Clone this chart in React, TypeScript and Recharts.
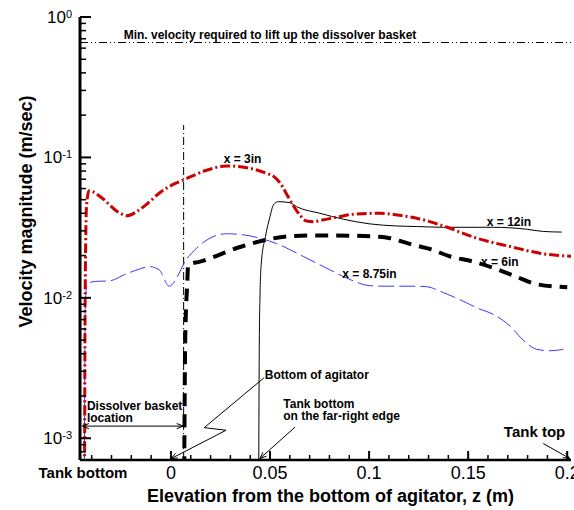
import { LineChart, Line, XAxis, YAxis, ReferenceLine, ReferenceDot } from "recharts";

const FONT = '"Liberation Sans", Arial, Helvetica, sans-serif';

// x = 3in (red dash-dot)
const x3inZ = [-0.0436, -0.0433, -0.0426, -0.0414, -0.0345, -0.0269, -0.0219, -0.0168, -0.0118, -0.005, 0.0025, 0.0062, 0.018, 0.0281, 0.0382, 0.0483, 0.052, 0.055, 0.058, 0.0615, 0.065, 0.0685, 0.072, 0.0752, 0.0836, 0.0937, 0.1055, 0.1173, 0.124, 0.1375, 0.1543, 0.1711, 0.1879, 0.2019];
const x3inV = [0.0006, 0.01, 0.045, 0.058, 0.051, 0.041, 0.0385, 0.0416, 0.047, 0.057, 0.0655, 0.069, 0.081, 0.087, 0.0845, 0.077, 0.073, 0.066, 0.056, 0.046, 0.039, 0.0352, 0.0348, 0.0355, 0.0375, 0.0396, 0.04, 0.0383, 0.0369, 0.0325, 0.0266, 0.0232, 0.0206, 0.0198];

// x = 6in (thick black dashed)
const x6inZ = [0.0067, 0.0072, 0.0082, 0.0087, 0.0146, 0.0357, 0.0483, 0.059, 0.075, 0.09, 0.105, 0.1105, 0.12, 0.131, 0.141, 0.1526, 0.1645, 0.1745, 0.1846, 0.2];
const x6inV = [0.0006, 0.005, 0.0125, 0.0172, 0.0181, 0.0232, 0.0259, 0.0274, 0.0278, 0.0277, 0.0272, 0.0266, 0.0243, 0.0222, 0.0197, 0.0181, 0.016, 0.0141, 0.0125, 0.0119];

// x = 8.75in (thin blue dashed)
const x875inZ = [-0.0437, -0.0432, -0.0421, -0.0379, -0.0311, -0.0227, -0.016, -0.011, -0.0059, -0.0009, 0.0042, 0.0062, 0.013, 0.0197, 0.0281, 0.0365, 0.0449, 0.0534, 0.0668, 0.0803, 0.0904, 0.1005, 0.1089, 0.124, 0.1291, 0.1375, 0.1459, 0.1543, 0.1644, 0.1711, 0.1778, 0.1846, 0.1913, 0.198];
const x875inV = [0.0006, 0.0095, 0.0127, 0.0131, 0.0132, 0.0148, 0.016, 0.0167, 0.0158, 0.0121, 0.015, 0.0172, 0.0226, 0.0266, 0.0286, 0.0281, 0.0266, 0.0243, 0.0197, 0.0158, 0.0135, 0.0122, 0.0121, 0.0121, 0.012, 0.0109, 0.0097, 0.0085, 0.0074, 0.0063, 0.005, 0.0043, 0.0042, 0.0043];

// x = 12in (thin black solid)
const x12inZ = [0.0443, 0.0446, 0.0449, 0.0456, 0.0477, 0.05, 0.0517, 0.0542, 0.06, 0.0634, 0.0752, 0.087, 0.1005, 0.1138, 0.124, 0.1375, 0.1627, 0.1795, 0.1879, 0.1972];
const x12inV = [0.0006, 0.005, 0.0097, 0.0177, 0.0274, 0.0379, 0.0459, 0.0484, 0.0476, 0.0446, 0.04, 0.0363, 0.0336, 0.0325, 0.0322, 0.0318, 0.0318, 0.0308, 0.0297, 0.0294];

const xDomain = [-0.0459, 0.2019];
const yDomain = [0.0007, 1];

const xMajorTicks = [0, 0.05, 0.1, 0.15, 0.2];
const xMajorLabels = ["0", "0.05", "0.1", "0.15", "0.2"];
const xMinorTicks = [-0.04, -0.03, -0.02, -0.01, 0.01, 0.02, 0.03, 0.04, 0.06, 0.07, 0.08, 0.09, 0.11, 0.12, 0.13, 0.14, 0.16, 0.17, 0.18, 0.19];
const tankBottomZ = -0.0444;

const yMajorTicks = [0.001, 0.01, 0.1, 1];
const yMajorExponents = ["-3", "-2", "-1", "0"];
const yMinorTicks = [
  0.0008, 0.0009,
  0.002, 0.003, 0.004, 0.005, 0.006, 0.007, 0.008, 0.009,
  0.02, 0.03, 0.04, 0.05, 0.06, 0.07, 0.08, 0.09,
  0.2, 0.3, 0.4, 0.5, 0.6, 0.7, 0.8, 0.9,
];

const minLiftVelocity = 0.658;
const basketZ = 0.0064;
const basketTopV = 0.17;

const zip = (z: number[], v: number[]) => z.map((zz, i) => ({ z: zz, v: v[i] }));

const x3in = zip(x3inZ, x3inV);
const x6in = zip(x6inZ, x6inV);
const x875in = zip(x875inZ, x875inV);
const x12in = zip(x12inZ, x12inV);

// text notes: position (z, v), lines, font size, anchor
const notes = [
  { z: 0.05, v: 0.702, lines: ["Min. velocity required to lift up the dissolver basket"], size: 12, anchor: "middle" },
  { z: 0.0361, v: 0.0913, lines: ["x = 3in"], size: 12, anchor: "middle" },
  { z: 0.1706, v: 0.0325, lines: ["x = 12in"], size: 12, anchor: "middle" },
  { z: 0.166, v: 0.0168, lines: ["x = 6in"], size: 12, anchor: "middle" },
  { z: 0.1002, v: 0.01385, lines: ["x = 8.75in"], size: 12, anchor: "middle" },
  { z: -0.0424, v: 0.00158, lines: ["Dissolver basket", "location"], size: 12, anchor: "start" },
  { z: 0.0474, v: 0.00263, lines: ["Bottom of agitator"], size: 12, anchor: "start" },
  { z: 0.0567, v: 0.00163, lines: ["Tank bottom", "on the far-right edge"], size: 12, anchor: "start" },
  { z: 0.168, v: 0.00102, lines: ["Tank top"], size: 15, anchor: "start" },
];

// leader segments: [z1, v1, z2, v2, head]
const leaders: [number, number, number, number, string][] = [
  [-0.0447, 0.00122, 0.0062, 0.00122, "both"],
  [0.0469, 0.00269, 0.0168, 0.00119, "none"],
  [0.0168, 0.00119, 0.0278, 0.00114, "none"],
  [0.0278, 0.00114, 0.0, 0.000715, "end"],
  [0.0626, 0.0012, 0.0449, 0.000717, "end"],
  [0.1879, 0.000917, 0.2013, 0.000717, "end"],
];

const noteShape = (lines: string[], size: number, anchor: string) => (p: any) => (
  <text x={p.cx} y={p.cy} fontFamily={FONT} fontSize={size} fontWeight="bold" textAnchor={anchor} fill="#000">
    {lines.map((l, i) => (
      <tspan key={i} x={p.cx} dy={i === 0 ? 0 : size}>
        {l}
      </tspan>
    ))}
  </text>
);

const headPath = (x: number, y: number, ang: number) => {
  const L = 7;
  const w = 0.38;
  return `M${x - L * Math.cos(ang - w)},${y - L * Math.sin(ang - w)}L${x},${y}L${x - L * Math.cos(ang + w)},${y - L * Math.sin(ang + w)}`;
};

const arrowShape = (head: string) => (p: any) => {
  const { x1, y1, x2, y2 } = p;
  const a = Math.atan2(y2 - y1, x2 - x1);
  let d = `M${x1},${y1}L${x2},${y2}`;
  if (head === "end" || head === "both") d += headPath(x2, y2, a);
  if (head === "both") d += headPath(x1, y1, a + Math.PI);
  return <path d={d} fill="none" stroke="#000" strokeWidth={1} />;
};

// tick marks pointing into the plot, drawn as short reference segments
const tickShape = (dx: number, dy: number, w: number) => (p: any) => {
  const x = Math.min(p.x1, p.x2);
  const y = Math.max(p.y1, p.y2);
  return <path d={`M${x},${y}L${x + dx},${y + dy}`} fill="none" stroke="#000" strokeWidth={w} />;
};

const renderXTick = (p: any) => {
  const { x, y, payload } = p;
  const v = payload.value;
  if (v === tankBottomZ) {
    return (
      <text x={x} y={y + 10} textAnchor="middle" fontFamily={FONT} fontWeight="bold" fontSize={15} fill="#000">
        Tank bottom
      </text>
    );
  }
  const mi = xMajorTicks.indexOf(v);
  return (
    <text x={x} y={y + 11} textAnchor="middle" fontFamily={FONT} fontSize={18} fill="#000">
      {xMajorLabels[mi]}
    </text>
  );
};

const renderYTick = (p: any) => {
  const { x, y, payload } = p;
  const mi = yMajorTicks.indexOf(payload.value);
  return (
    <text x={x} y={y + 6} textAnchor="end" fontFamily={FONT} fontSize={17} fill="#000">
      10
      <tspan fontSize={11} dy={-5}>
        {yMajorExponents[mi]}
      </tspan>
    </text>
  );
};

export default function App() {
  return (
    <div style={{ position: "absolute", left: 0, top: 0 }}>
      <LineChart width={574} height={510} margin={{ top: 17, right: 3, left: 0, bottom: 0 }}>
        <XAxis
          dataKey="z"
          type="number"
          domain={xDomain}
          allowDataOverflow
          ticks={[tankBottomZ, ...xMajorTicks]}
          interval={0}
          tick={renderXTick}
          tickLine={false}
          height={50}
          axisLine={{ stroke: "#000", strokeWidth: 2.5 }}
          label={{
            content: (props: any) => {
              const vb = props.viewBox;
              return (
                <text x={vb.x + vb.width / 2 + 5} y={vb.y + 42} textAnchor="middle" fontFamily={FONT} fontWeight="bold" fontSize={18} fill="#000">
                  Elevation from the bottom of agitator, z (m)
                </text>
              );
            },
          }}
        />
        <YAxis
          type="number"
          scale="log"
          domain={yDomain}
          allowDataOverflow
          ticks={yMajorTicks}
          interval={0}
          tick={renderYTick}
          tickLine={false}
          width={80}
          axisLine={{ stroke: "#000", strokeWidth: 3 }}
          label={{
            content: () => (
              <text transform="translate(32, 211.5) rotate(-90)" textAnchor="middle" fontFamily={FONT} fontWeight="bold" fontSize={18} fill="#000">
                Velocity magnitude (m/sec)
              </text>
            ),
          }}
        />
        <XAxis xAxisId="top" orientation="top" type="number" domain={xDomain} height={0} tick={false} tickLine={false} axisLine={{ stroke: "#000", strokeWidth: 2 }} />
        <YAxis yAxisId="right" orientation="right" type="number" domain={[0, 1]} width={0} tick={false} tickLine={false} axisLine={{ stroke: "#000", strokeWidth: 2 }} />

        <ReferenceLine y={minLiftVelocity} stroke="#000" strokeWidth={1} strokeDasharray="8 3 1 3 1 3" />
        <ReferenceLine
          segment={[
            { x: basketZ, y: yDomain[0] },
            { x: basketZ, y: basketTopV },
          ]}
          stroke="#000"
          strokeWidth={1}
          strokeDasharray="8 3 1 3"
        />

        <Line data={x12in} dataKey="v" type="monotone" stroke="#000" strokeWidth={1} dot={false} activeDot={false} isAnimationActive={false} />
        <Line data={x875in} dataKey="v" type="monotone" stroke="#3a3aff" strokeWidth={1} strokeDasharray="16 5" dot={false} activeDot={false} isAnimationActive={false} />
        <Line data={x6in} dataKey="v" type="monotone" stroke="#000" strokeWidth={4} strokeDasharray="13 8" dot={false} activeDot={false} isAnimationActive={false} />
        <Line data={x3in} dataKey="v" type="monotone" stroke="#cc0000" strokeWidth={3} strokeDasharray="10 3 2 3" dot={false} activeDot={false} isAnimationActive={false} />

        {/* ticks as segments, same mechanism as the arrows */}
        {yMinorTicks.map((v) => (
          <ReferenceLine key={"ym" + v} segment={[{ x: xDomain[0], y: v }, { x: xDomain[1], y: v }]} ifOverflow="visible" shape={tickShape(6, 0, 1.5)} />
        ))}
        {yMajorTicks.map((v) => (
          <ReferenceLine key={"yM" + v} segment={[{ x: xDomain[0], y: v }, { x: xDomain[1], y: v }]} ifOverflow="visible" shape={tickShape(11, 0, 2)} />
        ))}
        {xMinorTicks.map((v) => (
          <ReferenceLine key={"xm" + v} segment={[{ x: v, y: yDomain[0] }, { x: v, y: yDomain[1] }]} ifOverflow="visible" shape={tickShape(0, -5, 1.5)} />
        ))}
        {xMajorTicks.map((v) => (
          <ReferenceLine key={"xM" + v} segment={[{ x: v, y: yDomain[0] }, { x: v, y: yDomain[1] }]} ifOverflow="visible" shape={tickShape(0, -9, 2)} />
        ))}

        {leaders.map((s, i) => (
          <ReferenceLine
            key={"l" + i}
            segment={[
              { x: s[0], y: s[1] },
              { x: s[2], y: s[3] },
            ]}
            ifOverflow="visible"
            shape={arrowShape(s[4])}
          />
        ))}
        {notes.map((n, i) => (
          <ReferenceDot key={"n" + i} x={n.z} y={n.v} r={0} ifOverflow="visible" shape={noteShape(n.lines, n.size, n.anchor)} />
        ))}
      </LineChart>
    </div>
  );
}
